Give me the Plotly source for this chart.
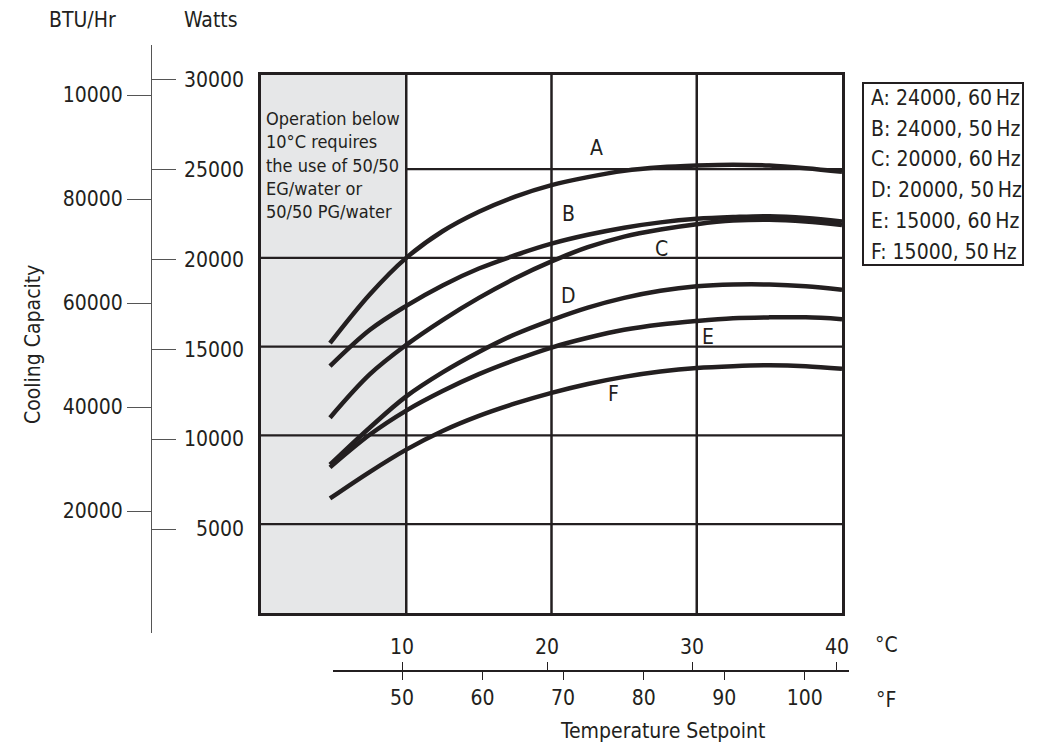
import plotly.graph_objects as go

# Cooling capacity (W) vs temperature setpoint (deg C)
temp_c = [4.75, 7.5, 10, 12.5, 15, 17.5, 20, 22.5, 25, 27.5, 30, 32.5, 35, 37.5, 40]
cap_a = [15200, 17950, 20000, 21500, 22600, 23450, 24100, 24550, 24900, 25100, 25200, 25250, 25200, 25050, 24850]
cap_b = [13900, 15950, 17300, 18450, 19400, 20150, 20800, 21300, 21700, 22000, 22200, 22300, 22350, 22250, 22050]
cap_c = [11000, 13450, 15100, 16500, 17750, 18850, 19800, 20600, 21200, 21600, 21900, 22100, 22150, 22050, 21850]
cap_d = [8350, 10450, 12200, 13550, 14700, 15700, 16500, 17200, 17750, 18150, 18400, 18500, 18500, 18400, 18200]
cap_e = [8200, 10050, 11400, 12500, 13450, 14250, 14950, 15500, 15950, 16250, 16450, 16600, 16650, 16650, 16550]
cap_f = [6450, 7950, 9200, 10250, 11100, 11800, 12400, 12900, 13300, 13600, 13800, 13900, 13950, 13900, 13750]
series = {'A': cap_a, 'B': cap_b, 'C': cap_c, 'D': cap_d, 'E': cap_e, 'F': cap_f}

label_c = [23.1, 21.2, 27.6, 21.2, 30.8, 24.3]
label_w = [26200, 22450, 20500, 17850, 15550, 12350]

legend_lines = ['A: 24000, 60\u2009Hz', 'B: 24000, 50\u2009Hz', 'C: 20000, 60\u2009Hz',
		'D: 20000, 50\u2009Hz', 'E: 15000, 60\u2009Hz', 'F: 15000, 50\u2009Hz']
note_lines = ['Operation below', '10°C requires', 'the use of 50/50',
	      'EG/water or', '50/50 PG/water']

watt_ticks = [5000, 10000, 15000, 20000, 25000, 30000]
btu_ticks = [20000, 40000, 60000, 80000, 100000]
btu_text = ['20000', '40000', '60000', '80000', '10000']
c_ticks = [10, 20, 30, 40]
f_ticks = [50, 60, 70, 80, 90, 100]
grid_w = [5000, 10000, 15000, 20000, 25000]
grid_c = [10, 20, 30]

# the page body adds an 8px margin, so the figure is laid out in screen pixels minus 8
OFF = 8
FW, FH = 1041 - OFF, 746 - OFF
INK = '#231f20'
FONT = 'DejaVu Sans Condensed, Liberation Sans Narrow, sans-serif'


def px(v):
	return (v - OFF) / FW


def py(v):
	return 1 - (v - OFF) / FH


def main():
	fig = go.Figure()

	for name, vals in series.items():
		fig.add_trace(go.Scatter(x=temp_c, y=vals, mode='lines', name=name,
			line=dict(color=INK, width=4.5, shape='spline', smoothing=1.0),
			showlegend=False, hoverinfo='skip'))

	# empty traces so the extra axes get drawn
	for xa, ya in [('x', 'y2'), ('x', 'y3'), ('x', 'y4'), ('x2', 'y'), ('x3', 'y')]:
		fig.add_trace(go.Scatter(x=[None], y=[None], xaxis=xa, yaxis=ya,
			showlegend=False, hoverinfo='skip'))

	shapes = [dict(type='rect', xref='x', yref='y', x0=0, x1=10, y0=0, y1=30300,
		fillcolor='#e6e7e8', line=dict(width=0), layer='below')]
	for g in grid_w:
		x0 = 10 if g == 25000 else 0
		shapes.append(dict(type='line', xref='x', yref='y', x0=x0, x1=40, y0=g, y1=g,
			line=dict(color=INK, width=2.2), layer='below'))
	for g in grid_c:
		shapes.append(dict(type='line', xref='x', yref='y', x0=g, x1=g, y0=0, y1=30300,
			line=dict(color=INK, width=2.5), layer='below'))
	# legend box
	shapes.append(dict(type='rect', xref='paper', yref='paper', x0=px(863), x1=px(1023),
		y0=py(265), y1=py(83), line=dict(color=INK, width=2), fillcolor='white'))

	tf = dict(family=FONT, size=21, color=INK)
	annotations = []
	for name, c, w in zip(series.keys(), label_c, label_w):
		annotations.append(dict(x=c, y=w, xref='x', yref='y', text=name,
			showarrow=False, font=tf))
	for i, t in enumerate(note_lines):
		annotations.append(dict(x=px(264), y=py(118 + 23.5 * i), xref='paper', yref='paper',
			xanchor='left', yanchor='middle', showarrow=False, text=t,
			font=dict(family=FONT, size=18, color=INK)))
	for i, t in enumerate(legend_lines):
		annotations.append(dict(x=px(869), y=py(98 + 30.7 * i), xref='paper', yref='paper',
			xanchor='left', yanchor='middle', showarrow=False, text=t, font=tf))

	def lab(x, y, t, **kw):
		return dict(x=px(x), y=py(y), xref='paper', yref='paper', text=t,
			xanchor='center', yanchor='middle', showarrow=False, font=tf, **kw)

	annotations += [
		lab(82, 20, 'BTU/Hr'),
		lab(211, 20, 'Watts'),
		lab(33, 345, 'Cooling Capacity', textangle=-90),
		lab(886, 645, '°C'),
		lab(886, 700, '°F'),
		lab(662, 731, 'Temperature Setpoint'),
	]

	left_dom = [py(633), py(45)]
	bot_dom = [px(333), px(849)]
	bot_range = [5.241, 40.828]
	f_pos = [(f - 32) * 5 / 9 for f in f_ticks]
	clear = 'rgba(0,0,0,0)'

	fig.update_layout(
		width=FW, height=FH, margin=dict(l=0, r=0, t=0, b=0),
		paper_bgcolor='white', plot_bgcolor=clear,
		font=tf, shapes=shapes, annotations=annotations,
		xaxis=dict(domain=[px(261), px(842)], range=[0, 40], showgrid=False,
			zeroline=False, showticklabels=False, ticks='',
			showline=True, mirror=True, linecolor=INK, linewidth=2.5),
		yaxis=dict(domain=[py(613), py(75)], range=[0, 30300], showgrid=False,
			zeroline=False, showticklabels=False, ticks='',
			showline=True, mirror=True, linecolor=INK, linewidth=2.5),
		yaxis2=dict(domain=left_dom, range=[-3462, 109615], anchor='free',
			position=px(151), side='left', showline=True, linecolor='#555',
			linewidth=1, ticks='outside', ticklen=24, tickwidth=1.2, tickcolor='#555',
			tickvals=btu_ticks, ticktext=btu_text, tickfont=tf,
			showgrid=False, zeroline=False),
		yaxis3=dict(domain=left_dom, range=[-778, 31906], anchor='free',
			position=px(151), side='right', showline=False, ticks='outside',
			ticklen=24, tickwidth=1.2, tickcolor='#555', tickvals=watt_ticks,
			showticklabels=False, showgrid=False, zeroline=False),
		yaxis4=dict(domain=left_dom, range=[-778, 31906], anchor='free',
			position=px(244), side='left', showline=False, ticks='',
			tickvals=watt_ticks, tickformat='d', tickfont=tf,
			showgrid=False, zeroline=False),
		xaxis2=dict(domain=bot_dom, range=bot_range, anchor='free',
			position=py(670.7), side='top', showline=True, linecolor=INK,
			linewidth=1.5, ticks='outside', ticklen=8, tickwidth=1.2, tickcolor=INK,
			tickvals=c_ticks, tickfont=tf, showgrid=False, zeroline=False),
		xaxis3=dict(domain=bot_dom, range=bot_range, anchor='free',
			position=py(670.7), side='bottom', showline=False, ticks='outside',
			ticklen=8, tickwidth=1.2, tickcolor=INK, tickvals=f_pos,
			ticktext=[str(f) for f in f_ticks], tickfont=tf,
			showgrid=False, zeroline=False),
	)

	fig.write_html('out.html')


if __name__ == '__main__':
	main()
